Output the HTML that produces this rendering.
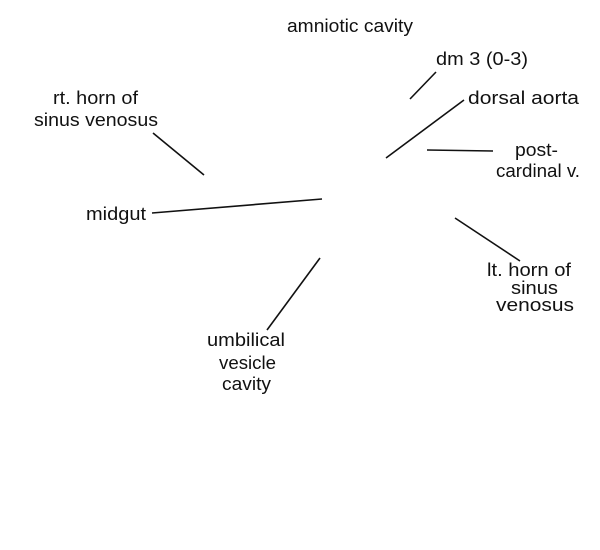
<!DOCTYPE html>
<html><head><meta charset="utf-8"><style>
html,body{margin:0;padding:0;background:#fff;}
svg{display:block;}
text{font-family:"Liberation Sans",Arial,sans-serif;font-size:18px;fill:#111;}
</style></head><body>
<svg width="600" height="550" viewBox="0 0 600 550" xmlns="http://www.w3.org/2000/svg">
<g stroke="#111" stroke-width="1.6" fill="none">
<line x1="410" y1="99" x2="436" y2="72"/>
<line x1="386" y1="158" x2="464" y2="100"/>
<line x1="427" y1="150" x2="493" y2="151"/>
<line x1="153" y1="133" x2="204" y2="175"/>
<line x1="152" y1="213" x2="322" y2="199"/>
<line x1="455" y1="218" x2="520" y2="261"/>
<line x1="320" y1="258" x2="267" y2="330"/>
</g>
<g lengthAdjust="spacingAndGlyphs">
<text x="287" y="32" textLength="126" lengthAdjust="spacingAndGlyphs">amniotic cavity</text>
<text x="436" y="65" textLength="92" lengthAdjust="spacingAndGlyphs">dm 3 (0-3)</text>
<text x="53" y="104" textLength="85" lengthAdjust="spacingAndGlyphs">rt. horn of</text>
<text x="34" y="126" textLength="124" lengthAdjust="spacingAndGlyphs">sinus venosus</text>
<text x="468" y="104" textLength="111" lengthAdjust="spacingAndGlyphs">dorsal aorta</text>
<text x="515" y="156" textLength="43" lengthAdjust="spacingAndGlyphs">post-</text>
<text x="496" y="177" textLength="84" lengthAdjust="spacingAndGlyphs">cardinal v.</text>
<text x="86" y="220" textLength="60" lengthAdjust="spacingAndGlyphs">midgut</text>
<text x="487" y="276" textLength="84" lengthAdjust="spacingAndGlyphs">lt. horn of</text>
<text x="511" y="294" textLength="47" lengthAdjust="spacingAndGlyphs">sinus</text>
<text x="496" y="311" textLength="78" lengthAdjust="spacingAndGlyphs">venosus</text>
<text x="207" y="346" textLength="78" lengthAdjust="spacingAndGlyphs">umbilical</text>
<text x="219" y="369" textLength="57" lengthAdjust="spacingAndGlyphs">vesicle</text>
<text x="222" y="390" textLength="49" lengthAdjust="spacingAndGlyphs">cavity</text>
</g>
</svg>
</body></html>
